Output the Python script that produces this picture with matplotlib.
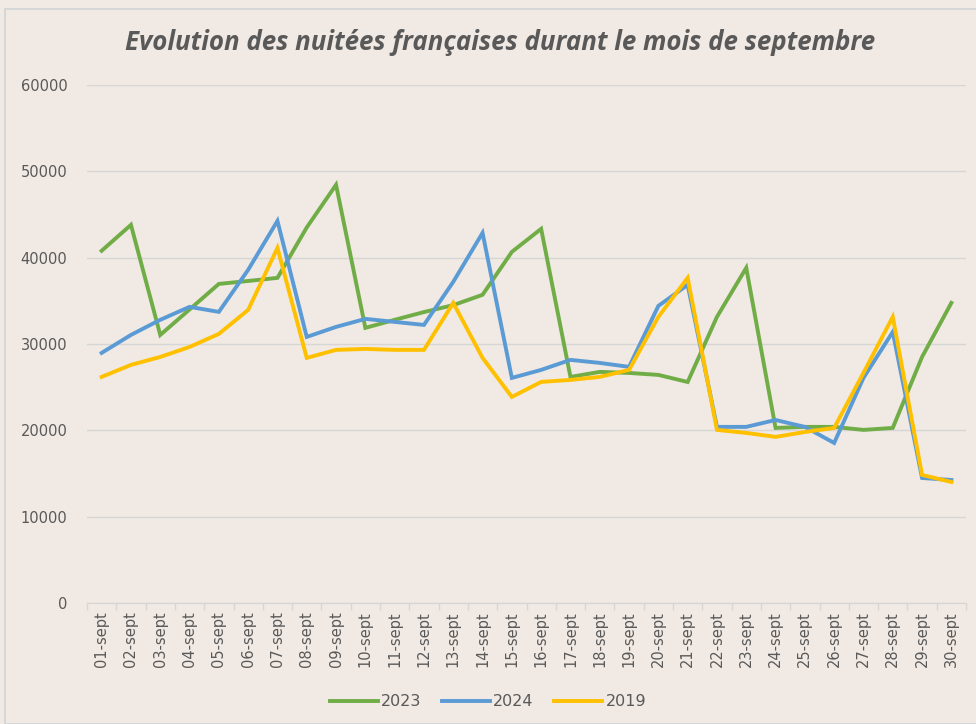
import matplotlib
matplotlib.use("Agg")
import matplotlib.pyplot as plt
from matplotlib.patches import Rectangle
import numpy as np

days = [f"{d:02d}-sept" for d in range(1, 31)]
v2023 = [40800, 43800, 31050, 34000, 36960, 37300, 37660, 43500, 48440, 31870,
         32800, 33700, 34500, 35700, 40670, 43340, 26190, 26770, 26650, 26420,
         25600, 33140, 38820, 20280, 20400, 20400, 20050, 20280, 28500, 34760]
v2024 = [28970, 31050, 32800, 34300, 33720, 38590, 44260, 30820, 31980, 32910,
         32560, 32210, 37200, 42870, 26070, 27000, 28160, 27810, 27350, 34410,
         36850, 20400, 20400, 21200, 20400, 18540, 26070, 31400, 14480, 14250]
v2019 = [26190, 27580, 28500, 29660, 31170, 33950, 41130, 28390, 29320, 29430,
         29320, 29320, 34760, 28390, 23870, 25610, 25840, 26190, 27000, 33140,
         37660, 20050, 19700, 19240, 19810, 20280, 26650, 33140, 14830, 14020]
series = [("2023", v2023, "#70AD47"), ("2024", v2024, "#5B9BD5"), ("2019", v2019, "#FFC000")]
yticks = [0, 10000, 20000, 30000, 40000, 50000, 60000]

bg = "#F1E9E3"
txt = "#595959"
fig = plt.figure(figsize=(9.76, 7.24), dpi=100, facecolor=bg)
ax = fig.add_axes([87/976, 1-603/724, (966-87)/976, (603-85)/724])
ax.set_facecolor(bg)

x = np.arange(len(days))
for name, vals, col in series:
    ax.plot(x, vals, color=col, lw=2.8, label=name, solid_joinstyle="miter")

ax.set_xlim(-0.5, len(days) - 0.5)
ax.set_ylim(0, 60000)
ax.set_yticks(yticks)
ax.set_yticklabels([str(v) for v in yticks])
ax.yaxis.grid(True, color="#D6D6D6", lw=1)
ax.set_axisbelow(True)
ax.tick_params(axis="y", length=0, labelsize=10.5, colors=txt, pad=14)
ax.set_xticks(x)
ax.set_xticklabels(days, rotation=90, fontsize=10.5, color=txt)
ax.set_xticks(np.arange(-0.5, len(days)), minor=True)
ax.tick_params(axis="x", which="major", length=0, pad=6)
ax.tick_params(axis="x", which="minor", length=5, color="#D6D6D6", width=1)
for s in ["top", "right", "left"]:
    ax.spines[s].set_visible(False)
ax.spines["bottom"].set_color("#D6D6D6")

fig.text(500/976, 1-43/724, "Evolution des nuitées françaises durant le mois de septembre",
         ha="center", va="center", fontsize=18.6, fontstyle="italic", fontweight="bold",
         color=txt, family="Open Sans")

fig.legend(loc="center", bbox_to_anchor=(0.5, 1-702/724), ncol=3, frameon=False,
           fontsize=11.5, labelcolor=txt, handlelength=3.0, columnspacing=1.3, handletextpad=0.2)

fig.patches.append(Rectangle((5/976, 0), 1, 1-9/724, transform=fig.transFigure,
                             fill=False, edgecolor="#D0D4D6", lw=1.2))
fig.savefig("out.png", dpi=100, facecolor=bg)
